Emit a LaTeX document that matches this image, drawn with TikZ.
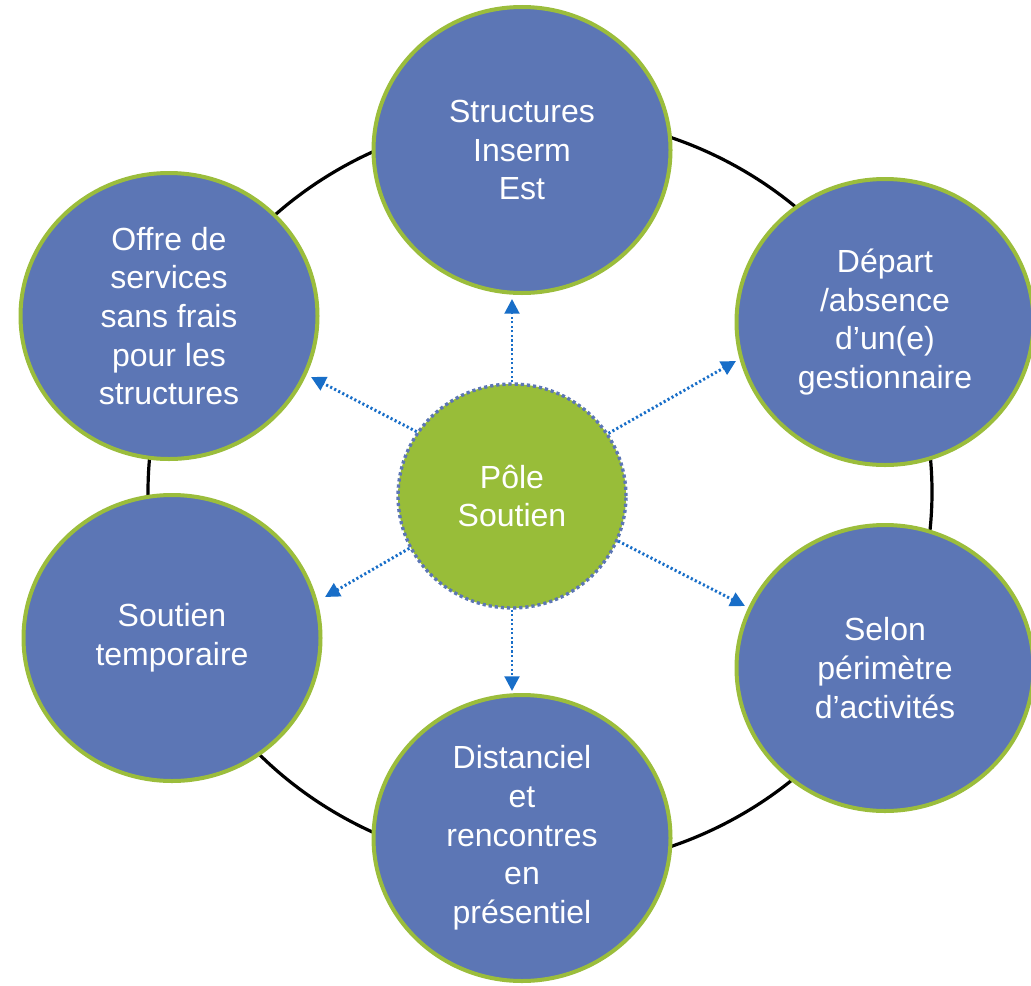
\documentclass[tikz,border=0pt]{standalone}
\usepackage{fontspec}
\setmainfont{Liberation Sans}
\usetikzlibrary{shapes.geometric,arrows.meta}
\definecolor{cfill}{RGB}{92,118,181}
\definecolor{cgreen}{RGB}{152,189,57}
\definecolor{cborder}{RGB}{155,189,60}
\definecolor{carrow}{RGB}{24,110,200}
\begin{document}
\begin{tikzpicture}[x=0.75pt,y=-0.75pt,
  outer/.style={ellipse, fill=cfill, draw=cborder, line width=3pt,
    minimum width=222.75pt, minimum height=214.5pt, inner sep=0pt,
    text=white, align=center, font=\fontsize{24}{29}\selectfont},
  hub/.style={ellipse, fill=cgreen, draw=cfill, line width=2.5pt,
    dash pattern=on 2.4pt off 2.2pt,
    minimum width=171pt, minimum height=168pt, inner sep=0pt,
    text=white, align=center, font=\fontsize{24}{29}\selectfont},
  link/.style={draw=carrow, line width=2.2pt, dash pattern=on 1.6pt off 1.8pt,
    -{Triangle[length=11pt,width=11pt,sep=0pt]}}]
\useasboundingbox (0,0) rectangle (1031,985);
\node[ellipse, draw=black, line width=2.4pt, fill=none,
  minimum width=588pt, minimum height=564pt, inner sep=0pt] (ring) at (540,492) {};
\node[outer] (top) at (522,150) {Structures\\Inserm\\Est};
\node[outer] (tl) at (169,316) {Offre de\\services\\sans frais\\pour les\\structures};
\node[outer] (tr) at (885,322) {Départ\\/absence\\d’un(e)\\gestionnaire};
\node[outer] (bl) at (172,638) {Soutien\\temporaire};
\node[outer] (br) at (885,668) {Selon\\périmètre\\d’activités};
\node[outer] (bot) at (522,838) {Distanciel\\et\\rencontres\\en\\présentiel};
\node[hub] (c) at (512,496) {Pôle\\Soutien};
\coordinate (eTop) at (512,299);
\coordinate (eTL) at (311,377);
\coordinate (eTR) at (736,361);
\coordinate (eBL) at (325,597);
\coordinate (eBR) at (745,606);
\coordinate (eBot) at (512,691);
\draw[link] (c.90) -- (eTop);
\draw[link] (c.146) -- (eTL);
\draw[link] (c.33) -- (eTR);
\draw[link] (c.207) -- (eBL);
\draw[link] (c.337) -- (eBR);
\draw[link] (c.270) -- (eBot);
\end{tikzpicture}
\end{document}
